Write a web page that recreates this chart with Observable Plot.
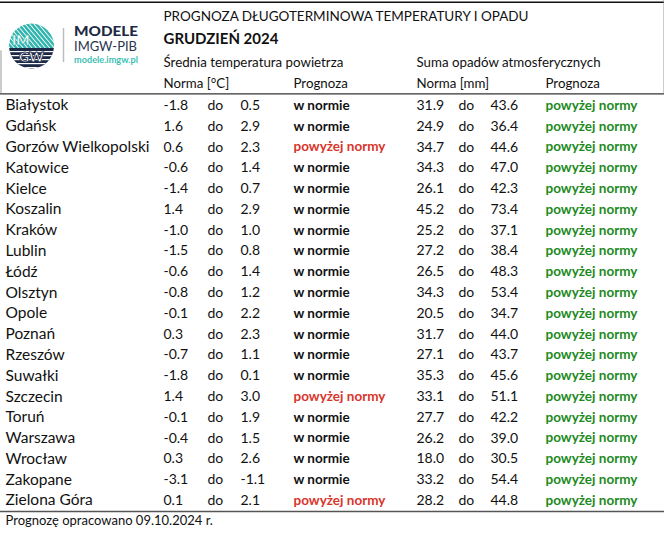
<!DOCTYPE html>
<html><head><meta charset="utf-8">
<script src="https://cdn.jsdelivr.net/npm/d3@7"></script>
<script src="https://cdn.jsdelivr.net/npm/@observablehq/plot@0.6"></script>
<style>
body{margin:0;background:#fff;}
#wrap{position:relative;width:664px;height:545px;background:#fff;}
#logo{position:absolute;left:0;top:0;}
</style></head><body>
<div id="wrap"><div id="chart"></div>
<svg id="logo" width="150" height="80" viewBox="0 0 150 80">
<defs>
<clipPath id="c"><circle cx="31.5" cy="46" r="22.5"/></clipPath>
<pattern id="diag" width="3.4" height="3.4" patternUnits="userSpaceOnUse" patternTransform="rotate(-40)"><rect width="3.4" height="3.4" fill="#2fb5ad"/><rect width="0.9" height="3.4" fill="#fff"/></pattern>
</defs>
<g clip-path="url(#c)">
<rect x="0" y="20" width="60" height="28" fill="url(#diag)"/>
<rect x="0" y="48" width="60" height="25" fill="#1c2a48"/>
<g fill="#fff"><rect x="0" y="51" width="60" height="1.2"/><rect x="0" y="55" width="60" height="1.2"/><rect x="0" y="59" width="60" height="1.2"/><rect x="0" y="63" width="60" height="1.2"/><rect x="0" y="67" width="60" height="1.2"/></g>
</g>
<text x="12" y="44.5" font-family="Lato" font-weight="900" font-size="14" fill="#fff" stroke="#2fb5ad" stroke-width="0.5">IM</text>
<text x="19" y="62" font-family="Lato" font-weight="900" font-size="14" fill="#fff" stroke="#1c2a48" stroke-width="0.8">GW</text>
<line x1="63.5" y1="28" x2="63.5" y2="62" stroke="#bdbdbd" stroke-width="1.5"/>
<text x="74" y="36" font-family="Lato" font-weight="900" font-size="14" fill="#1e2a44" textLength="64" lengthAdjust="spacingAndGlyphs">MODELE</text>
<text x="74" y="51" font-family="Lato" font-size="12.5" fill="#2a3450" textLength="63" lengthAdjust="spacingAndGlyphs">IMGW-PIB</text>
<text x="74" y="63" font-family="Lato" font-weight="700" font-size="8.5" fill="#3dbfb4" textLength="64" lengthAdjust="spacingAndGlyphs">modele.imgw.pl</text>
</svg>
</div>
<script>
// ---- data ----
const cities = ["Białystok","Gdańsk","Gorzów Wielkopolski","Katowice","Kielce","Koszalin","Kraków","Lublin","Łódź","Olsztyn","Opole","Poznań","Rzeszów","Suwałki","Szczecin","Toruń","Warszawa","Wrocław","Zakopane","Zielona Góra"];
const tempLow  = [-1.8, 1.6, 0.6, -0.6, -1.4, 1.4, -1.0, -1.5, -0.6, -0.8, -0.1, 0.3, -0.7, -1.8, 1.4, -0.1, -0.4, 0.3, -3.1, 0.1];
const tempHigh = [0.5, 2.9, 2.3, 1.4, 0.7, 2.9, 1.0, 0.8, 1.4, 1.2, 2.2, 2.3, 1.1, 0.1, 3.0, 1.9, 1.5, 2.6, -1.1, 2.1];
const tempForecast = ["w normie","w normie","powyżej normy","w normie","w normie","w normie","w normie","w normie","w normie","w normie","w normie","w normie","w normie","w normie","powyżej normy","w normie","w normie","w normie","w normie","powyżej normy"];
const precLow  = [31.9, 24.9, 34.7, 34.3, 26.1, 45.2, 25.2, 27.2, 26.5, 34.3, 20.5, 31.7, 27.1, 35.3, 33.1, 27.7, 26.2, 18.0, 33.2, 28.2];
const precHigh = [43.6, 36.4, 44.6, 47.0, 42.3, 73.4, 37.1, 38.4, 48.3, 53.4, 34.7, 44.0, 43.7, 45.6, 51.1, 42.2, 39.0, 30.5, 54.4, 44.8];
const precForecast = cities.map(() => "powyżej normy");
const title = "PROGNOZA DŁUGOTERMINOWA TEMPERATURY I OPADU";
const subtitle = "GRUDZIEŃ 2024";
const groupTemp = "Średnia temperatura powietrza";
const groupPrec = "Suma opadów atmosferycznych";
const headTemp = "Norma [°C]";
const headPrec = "Norma [mm]";
const headForecast = "Prognoza";
const footer = "Prognozę opracowano 09.10.2024 r.";

// ---- layout ----
const colX = {name:5, tmin:163, tdo:207, tmax:240, tprog:293, pmin:416, pdo:458, pmax:490, pprog:545};
const rowKeys = ["title","sub","group","head", ...cities, "foot"];
const fmt = v => v.toFixed(1);
const COLORS = {"w normie":"#111", "powyżej normy":"#d9352b"};

const names = [], nums = [], bold = [];
cities.forEach((c, i) => {
  names.push({row:c, col:"name", text:c});
  nums.push({row:c, col:"tmin", text:fmt(tempLow[i])});
  nums.push({row:c, col:"tdo", text:"do"});
  nums.push({row:c, col:"tmax", text:fmt(tempHigh[i])});
  bold.push({row:c, col:"tprog", text:tempForecast[i], color:COLORS[tempForecast[i]]});
  nums.push({row:c, col:"pmin", text:fmt(precLow[i])});
  nums.push({row:c, col:"pdo", text:"do"});
  nums.push({row:c, col:"pmax", text:fmt(precHigh[i])});
  bold.push({row:c, col:"pprog", text:precForecast[i], color:"#1d8a1d"});
});
const headers = [
  {row:"group", col:"tmin", text:groupTemp},
  {row:"group", col:"pmin", text:groupPrec},
  {row:"head", col:"tmin", text:headTemp},
  {row:"head", col:"tprog", text:headForecast},
  {row:"head", col:"pmin", text:headPrec},
  {row:"head", col:"pprog", text:headForecast},
];

const chart = Plot.plot({
  width: 664, height: 545,
  marginTop: 11.4, marginBottom: 13.8, marginLeft: 0, marginRight: 0,
  style: {fontFamily: "Lato", background: "#fff", color: "#111"},
  x: {type: "linear", domain: [0, 664], axis: null},
  y: {type: "point", domain: rowKeys, padding: 0.5, round: false, axis: null},
  marks: [
    Plot.ruleY(["title"], {dy: -20, stroke: "#111", strokeWidth: 1.5}),
    Plot.ruleY(["Białystok"], {dy: -11.5, stroke: "#333", strokeWidth: 1.3}),
    Plot.ruleY(["Zielona Góra"], {dy: 11, stroke: "#555", strokeWidth: 1.5}),
    Plot.ruleX([0.5], {y1: () => "group", y2: () => "head", insetTop: -13, insetBottom: -9, stroke: "#999"}),
    Plot.ruleX([663.5], {y1: () => "title", y2: () => "head", insetTop: -22, insetBottom: -9, stroke: "#999"}),
    Plot.text([title], {x: () => colX.tmin, y: () => "title", text: d => d, textAnchor: "start", dy: -6, fontSize: 13.5, fill: "#111"}),
    Plot.text([subtitle], {x: () => colX.tmin, y: () => "sub", text: d => d, textAnchor: "start", dy: -3.5, fontSize: 15, fontWeight: "bold", fill: "#111"}),
    Plot.text(headers, {x: d => colX[d.col], y: "row", text: "text", textAnchor: "start", dy: -1, fontSize: 13.3, fill: "#111"}),
    Plot.text(names, {x: d => colX[d.col], y: "row", text: "text", textAnchor: "start", fontSize: 15.5, fill: "#111"}),
    Plot.text(nums, {x: d => colX[d.col], y: "row", text: "text", textAnchor: "start", fontSize: 14, fill: "#111"}),
    Plot.text(bold, {x: d => colX[d.col], y: "row", text: "text", textAnchor: "start", fontSize: 13.5, fontWeight: "bold", fill: "color"}),
    Plot.text([footer], {x: () => colX.name, y: () => "foot", text: d => d, textAnchor: "start", fontSize: 13, fill: "#111"})
  ]
});
document.getElementById("chart").appendChild(chart);
</script>
</body></html>
